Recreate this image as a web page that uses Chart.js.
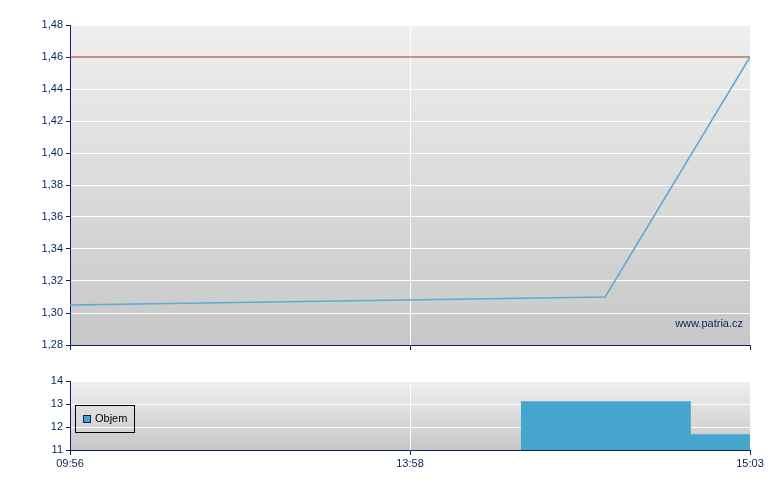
<!DOCTYPE html>
<html>
<head>
<meta charset="utf-8">
<script src="https://cdn.jsdelivr.net/npm/chart.js@4/dist/chart.umd.min.js"></script>
<style>
  body { margin: 0; background: #fff; font-family: Arial, "Liberation Sans", sans-serif; }
  #wrap { position: relative; width: 780px; height: 490px; }
  #cPrice { position: absolute; left: 0; top: 0; }
  #cVol { position: absolute; left: 0; top: 370px; }
  #legenda {
    position: absolute; left: 75px; top: 405px; width: 58px; height: 26px;
    border: 1px solid #000; font-size: 11px; color: #000;
  }
  #legenda .sw {
    position: absolute; left: 7px; top: 9px; width: 6px; height: 6px;
    background: #46a5cd; border: 1px solid #0a2359;
  }
  #legenda .tx { position: absolute; left: 19px; top: 6px; }
</style>
</head>
<body>
<div id="wrap">
  <canvas id="cPrice" width="780" height="360"></canvas>
  <canvas id="cVol" width="780" height="120"></canvas>
  <div id="legenda"><span class="sw"></span><span class="tx">Objem</span></div>
</div>
<script>
// data
const casy = ["09:56", "13:58", "15:03"];
const cenaX = [0, 1.574, 2];
const cenaY = [1.305, 1.31, 1.46];
const predchoziKurz = 1.46;
const objemX = [1.326, 1.826, 2];
const objemY = [13.12, 11.69, 11.69];

const navy = "#0a2359";
const pismo = { family: "Arial, 'Liberation Sans', sans-serif", size: 11 };

// pozadi s prechodem
const pozadi = {
  id: "pozadi",
  beforeDraw(chart) {
    const { ctx, chartArea: a } = chart;
    const g = ctx.createLinearGradient(0, a.top, 0, a.bottom);
    g.addColorStop(0, "#efefef");
    g.addColorStop(1, "#c7c7c7");
    ctx.save();
    ctx.fillStyle = g;
    ctx.fillRect(a.left, a.top, a.right - a.left, a.bottom - a.top);
    ctx.restore();
  }
};

const vodoznak = {
  id: "vodoznak",
  afterDraw(chart) {
    const ctx = chart.ctx;
    ctx.save();
    ctx.font = "11px Arial, 'Liberation Sans', sans-serif";
    ctx.fillStyle = navy;
    ctx.textAlign = "right";
    ctx.fillText("www.patria.cz", 743, 327);
    ctx.restore();
  }
};

const osaX = (popisky) => ({
  type: "linear", min: 0, max: 2,
  ticks: {
    stepSize: 1, display: popisky, color: navy, font: pismo,
    autoSkip: false, maxRotation: 0, padding: 2,
    callback: v => casy[v]
  },
  grid: { color: "#ffffff", tickColor: navy, tickLength: 5 },
  border: { color: navy }
});

new Chart(document.getElementById("cPrice"), {
  type: "line",
  data: {
    datasets: [
      {
        data: cenaX.map((x, i) => ({ x, y: cenaY[i] })),
        borderColor: "#5aaad2", borderWidth: 1.5, pointRadius: 0, tension: 0
      },
      {
        data: [{ x: 0, y: predchoziKurz }, { x: 2, y: predchoziKurz }],
        borderColor: "#a82222", borderWidth: 1, pointRadius: 0
      }
    ]
  },
  options: {
    responsive: false, animation: false, devicePixelRatio: 1,
    layout: { padding: { top: 25, right: 30, left: 0, bottom: 0 } },
    plugins: { legend: { display: false }, tooltip: { enabled: false } },
    scales: {
      x: { ...osaX(false), afterFit: s => { s.height = 15; } },
      y: {
        min: 1.28, max: 1.48,
        ticks: { stepSize: 0.02, color: navy, font: pismo, padding: 3,
          callback: v => v.toFixed(2).replace(".", ",") },
        grid: { color: "#ffffff", tickColor: navy, tickLength: 4 },
        border: { color: navy },
        afterFit: s => { s.width = 70; }
      }
    }
  },
  plugins: [pozadi, vodoznak]
});

new Chart(document.getElementById("cVol"), {
  type: "line",
  data: {
    datasets: [{
      data: objemX.map((x, i) => ({ x, y: objemY[i] })),
      stepped: "before", fill: "start",
      backgroundColor: "#46a5cd", borderColor: "#46a5cd", borderWidth: 0,
      pointRadius: 0
    }]
  },
  options: {
    responsive: false, animation: false, devicePixelRatio: 1,
    layout: { padding: { top: 11, right: 30, left: 0, bottom: 0 } },
    plugins: { legend: { display: false }, tooltip: { enabled: false } },
    scales: {
      x: { ...osaX(true), afterFit: s => { s.height = 40; } },
      y: {
        min: 11, max: 14,
        ticks: { stepSize: 1, color: navy, font: pismo, padding: 3 },
        grid: { color: "#ffffff", tickColor: navy, tickLength: 4 },
        border: { color: navy },
        afterFit: s => { s.width = 70; }
      }
    }
  },
  plugins: [pozadi]
});
</script>
</body>
</html>
